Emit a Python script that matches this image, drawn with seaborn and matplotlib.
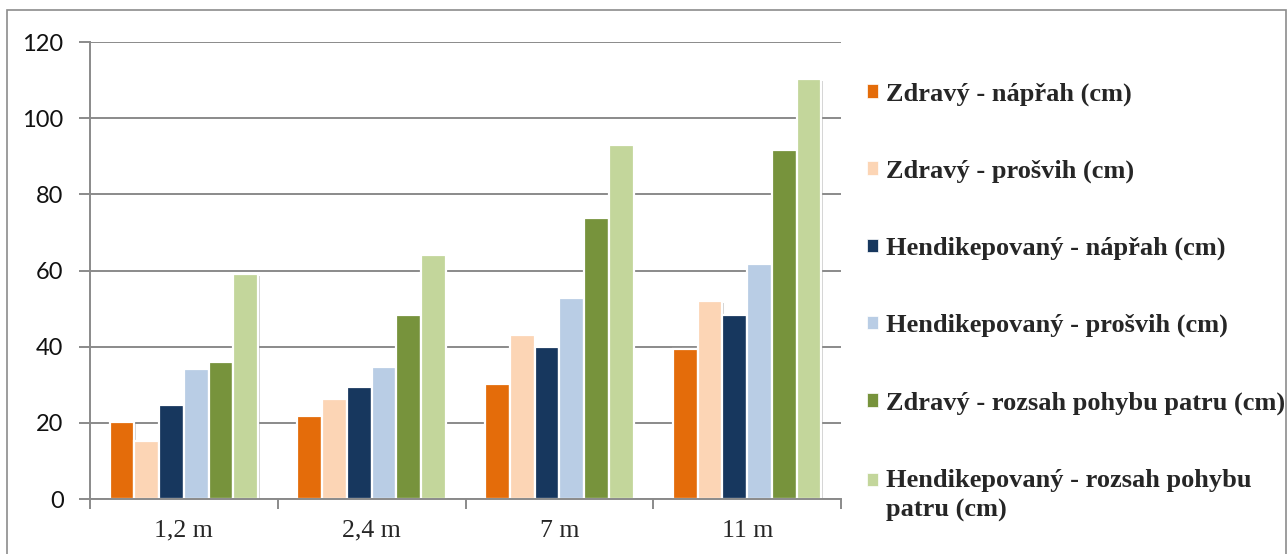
import matplotlib
matplotlib.use("Agg")
import matplotlib.pyplot as plt
import matplotlib.patheffects as pe
from matplotlib.patches import Rectangle
import seaborn as sns
import pandas as pd
import numpy as np

# Throw distances (categories)
distances = ["1,2 m", "2,4 m", "7 m", "11 m"]

# Series labels
series = [
    "Zdravý - nápřah (cm)",
    "Zdravý - prošvih (cm)",
    "Hendikepovaný - nápřah (cm)",
    "Hendikepovaný - prošvih (cm)",
    "Zdravý - rozsah pohybu patru (cm)",
    "Hendikepovaný - rozsah pohybu\npatru (cm)",
]

# Values per series, one per distance
zdravy_naprah = [20.3, 21.8, 30.3, 39.4]
zdravy_prosvih = [15.3, 26.2, 43.1, 51.9]
hendi_naprah = [24.8, 29.3, 40.0, 48.2]
hendi_prosvih = [34.1, 34.6, 52.7, 61.8]
zdravy_rozsah = [36.0, 48.2, 73.7, 91.6]
hendi_rozsah = [59.1, 64.2, 93.0, 110.3]

colors = ["#E46C0A", "#FCD5B5", "#17375E", "#B9CDE5", "#77933C", "#C3D69B"]

values = [zdravy_naprah, zdravy_prosvih, hendi_naprah, hendi_prosvih,
          zdravy_rozsah, hendi_rozsah]
rows = []
for name, vals in zip(series, values):
    for d, v in zip(distances, vals):
        rows.append({"vzdalenost": d, "serie": name, "hodnota": v})
df = pd.DataFrame(rows)

sns.set_theme(style="white")
plt.rcParams["font.family"] = ["Lato", "DejaVu Sans"]

fig = plt.figure(figsize=(12.88, 5.54), dpi=100)
ax = fig.add_axes([90 / 1288, 1 - 499 / 554, (841 - 90) / 1288, (499 - 42) / 554])

sns.barplot(data=df, x="vzdalenost", y="hodnota", hue="serie",
            order=distances, hue_order=series, palette=colors,
            width=0.79, edgecolor="white", linewidth=1.6, ax=ax,
            errorbar=None, saturation=1)

shadow = [pe.SimplePatchShadow(offset=(1.2, -1.2), shadow_rgbFace="#7f7f7f", alpha=0.35),
          pe.Normal()]
for p in ax.patches:
    p.set_path_effects(shadow)

grid_c = "#8a8a8a"
ax.set_ylim(0, 120)
ax.set_xlim(-0.5, 3.5)
ax.set_yticks(np.arange(0, 121, 20))
ax.yaxis.grid(True, color=grid_c, linewidth=1.4)
ax.set_axisbelow(True)
for s in ["top", "right"]:
    ax.spines[s].set_visible(False)
for s in ["left", "bottom"]:
    ax.spines[s].set_color(grid_c)
    ax.spines[s].set_linewidth(1.4)

ax.set_xlabel("")
ax.set_ylabel("")
ax.tick_params(axis="y", which="major", direction="out", length=8, width=1.4,
               color=grid_c, labelsize=17, pad=11, left=True)
ax.tick_params(axis="x", which="major", length=0, pad=15)
ax.set_xticks(np.arange(-0.5, 4, 1.0), minor=True)
ax.tick_params(axis="x", which="minor", direction="out", length=7, width=1.4,
               color=grid_c, bottom=True)
for lab in ax.get_xticklabels():
    lab.set_fontfamily("Liberation Serif")
    lab.set_fontsize(18.5)
for lab in ax.get_yticklabels():
    lab.set_color("#111111")

handles, labels = ax.get_legend_handles_labels()
leg = ax.legend(handles, labels, loc="upper left", bbox_to_anchor=(1.02, 0.935),
                frameon=False, handlelength=0.42, handleheight=0.42,
                handletextpad=0.3, labelspacing=2.04, borderaxespad=0,
                prop={"family": "Liberation Serif", "weight": "bold", "size": 19})
for h in leg.legend_handles:
    h.set_edgecolor("white")
    h.set_linewidth(0.5)
    h.set_path_effects([])
leg.get_texts()[-1].set_linespacing(1.4)
# keep the two-line entry's swatch level with its first line
last = leg.legend_handles[-1]
last.set_y(last.get_y() + 11)

fig.patches.append(Rectangle((7 / 1288, -0.02), (1286 - 7) / 1288, 1 - 10 / 554 + 0.02,
                             transform=fig.transFigure, fill=False,
                             edgecolor="#8c8c8c", linewidth=1.2))

fig.savefig("out.png", dpi=100)
